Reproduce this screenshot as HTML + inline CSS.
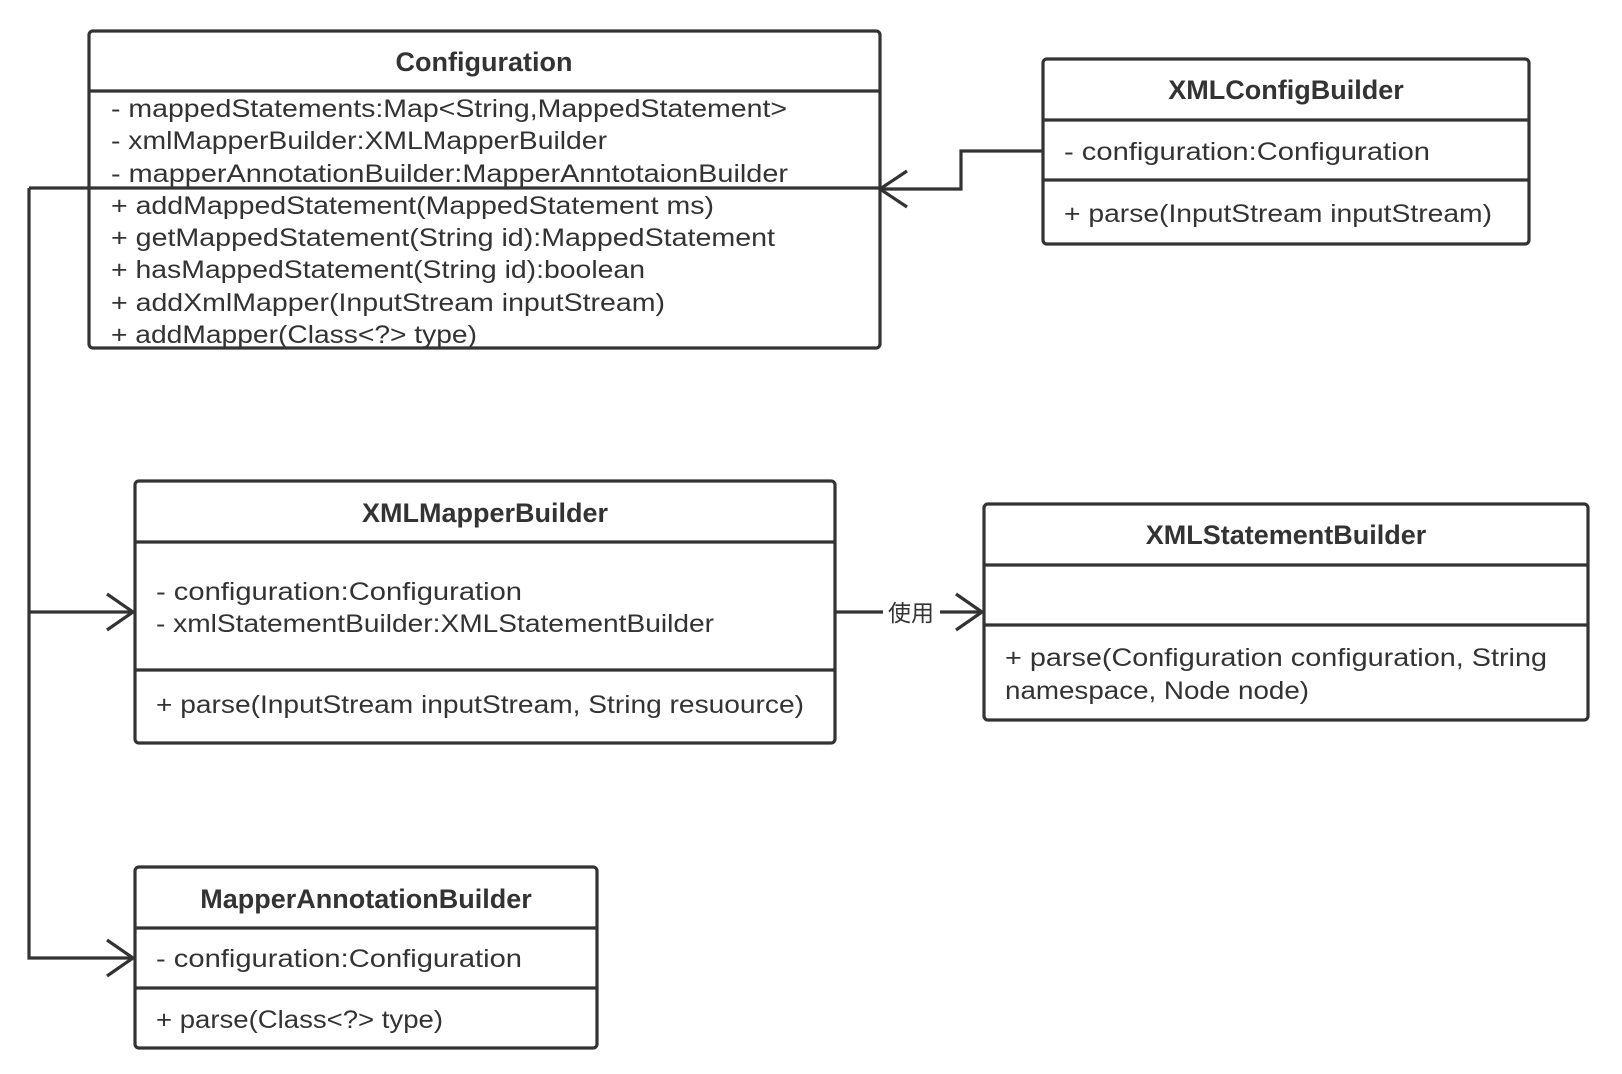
<!DOCTYPE html>
<html><head><meta charset="utf-8"><style>
html,body{margin:0;padding:0;background:#fff;}
svg{display:block;}
text{font-family:"Liberation Sans","Noto Sans CJK SC",sans-serif;font-size:25px;fill:#333;}
.t{font-weight:bold;text-anchor:middle;font-size:27px;}
</style></head><body>
<svg width="1622" height="1074" viewBox="0 0 1622 1074">
<g fill="none" stroke="#333" stroke-width="3.2">
<rect x="89" y="31" width="791" height="317" rx="4"/>
<line x1="89" y1="91" x2="880" y2="91"/>
<line x1="29" y1="188" x2="880" y2="188"/>
<rect x="1043" y="59" width="486" height="185" rx="4"/>
<line x1="1043" y1="120" x2="1529" y2="120"/>
<line x1="1043" y1="180" x2="1529" y2="180"/>
<polyline points="1043,151 961,151 961,189 879,189"/>
<polyline points="907,171 880,189 907,207"/>
<rect x="135" y="481" width="700" height="262" rx="4"/>
<line x1="135" y1="542" x2="835" y2="542"/>
<line x1="135" y1="670" x2="835" y2="670"/>
<rect x="984" y="504" width="604" height="216" rx="4"/>
<line x1="984" y1="565" x2="1588" y2="565"/>
<line x1="984" y1="625" x2="1588" y2="625"/>
<rect x="135" y="867" width="462" height="181" rx="4"/>
<line x1="135" y1="928" x2="597" y2="928"/>
<line x1="135" y1="988" x2="597" y2="988"/>
<polyline points="29,188 29,958 133,958"/>
<line x1="29" y1="612" x2="133" y2="612"/>
<polyline points="107,594 133,612 107,630"/>
<polyline points="107,940 133,958 107,976"/>
<line x1="835" y1="612" x2="883" y2="612"/>
<line x1="940" y1="612" x2="982" y2="612"/>
<polyline points="956,594 982,612 956,630"/>
</g>
<text class="t" x="484" y="71">Configuration</text>
<text x="111" y="117" textLength="676" lengthAdjust="spacingAndGlyphs">- mappedStatements:Map&lt;String,MappedStatement&gt;</text>
<text x="111" y="149" textLength="496" lengthAdjust="spacingAndGlyphs">- xmlMapperBuilder:XMLMapperBuilder</text>
<text x="111" y="182" textLength="677" lengthAdjust="spacingAndGlyphs">- mapperAnnotationBuilder:MapperAnntotaionBuilder</text>
<text x="111" y="214" textLength="603" lengthAdjust="spacingAndGlyphs">+ addMappedStatement(MappedStatement ms)</text>
<text x="111" y="246" textLength="664" lengthAdjust="spacingAndGlyphs">+ getMappedStatement(String id):MappedStatement</text>
<text x="111" y="278" textLength="534" lengthAdjust="spacingAndGlyphs">+ hasMappedStatement(String id):boolean</text>
<text x="111" y="311" textLength="554" lengthAdjust="spacingAndGlyphs">+ addXmlMapper(InputStream inputStream)</text>
<text x="111" y="343" textLength="366" lengthAdjust="spacingAndGlyphs">+ addMapper(Class&lt;?&gt; type)</text>
<text class="t" x="1286" y="99">XMLConfigBuilder</text>
<text x="1064" y="160" textLength="366" lengthAdjust="spacingAndGlyphs">- configuration:Configuration</text>
<text x="1064" y="222" textLength="428" lengthAdjust="spacingAndGlyphs">+ parse(InputStream inputStream)</text>
<text class="t" x="485" y="522">XMLMapperBuilder</text>
<text x="156" y="600" textLength="366" lengthAdjust="spacingAndGlyphs">- configuration:Configuration</text>
<text x="156" y="632" textLength="558" lengthAdjust="spacingAndGlyphs">- xmlStatementBuilder:XMLStatementBuilder</text>
<text x="156" y="713" textLength="648" lengthAdjust="spacingAndGlyphs">+ parse(InputStream inputStream, String resuource)</text>
<text x="911" y="621" text-anchor="middle" style="font-size:23px">使用</text>
<text class="t" x="1286" y="544">XMLStatementBuilder</text>
<text x="1005" y="666" textLength="542" lengthAdjust="spacingAndGlyphs">+ parse(Configuration configuration, String</text>
<text x="1005" y="699" textLength="304" lengthAdjust="spacingAndGlyphs">namespace, Node node)</text>
<text class="t" x="366" y="908">MapperAnnotationBuilder</text>
<text x="156" y="967" textLength="366" lengthAdjust="spacingAndGlyphs">- configuration:Configuration</text>
<text x="156" y="1028" textLength="287" lengthAdjust="spacingAndGlyphs">+ parse(Class&lt;?&gt; type)</text>
</svg>
</body></html>
